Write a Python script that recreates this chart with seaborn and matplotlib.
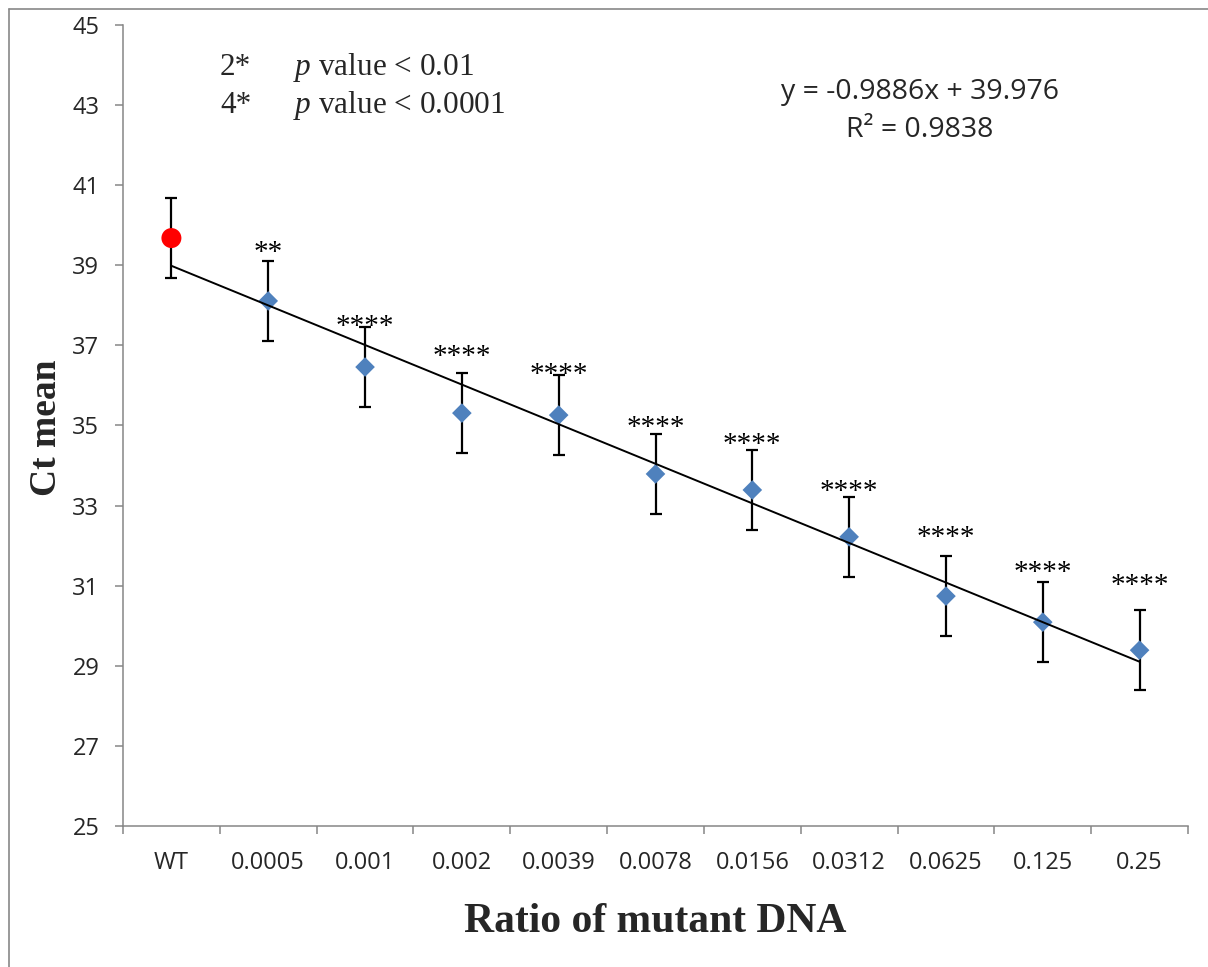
import numpy as np
import pandas as pd
import matplotlib
matplotlib.use("Agg")
import matplotlib.pyplot as plt
import seaborn as sns
from matplotlib.lines import Line2D

# ---------------- data ----------------
categories = ["WT", "0.0005", "0.001", "0.002", "0.0039", "0.0078",
              "0.0156", "0.0312", "0.0625", "0.125", "0.25"]
ct_mean = [39.68, 38.11, 36.46, 35.31, 35.26, 33.79, 33.39, 32.22, 30.74, 30.09, 29.39]
ct_err = [1.0, 1.0, 1.0, 1.0, 1.0, 1.0, 1.0, 1.0, 1.0, 1.0, 1.0]
stars = ["", "**", "****", "****", "****", "****", "****", "****", "****", "****", "****"]
star_label_center = [None, 39.47, 37.63, 36.88, 36.44, 35.11, 34.69, 33.51, 32.37, 31.49, 31.17]
trend_slope = -0.9886
trend_intercept = 39.976
r_squared = 0.9838
y_ticks = [25, 27, 29, 31, 33, 35, 37, 39, 41, 43, 45]

# ---------------- style ----------------
sns.set_style("white")
plt.rcParams["font.family"] = ["Open Sans", "DejaVu Sans"]
plt.rcParams["mathtext.fontset"] = "custom"
plt.rcParams["mathtext.rm"] = "Liberation Serif"
plt.rcParams["mathtext.it"] = "Liberation Serif:italic"

W, H = 1208, 967
fig = plt.figure(figsize=(W / 100, H / 100), dpi=100)
ax = fig.add_axes([123 / W, 1 - 826 / H, 1065 / W, 801 / H])

df = pd.DataFrame({"pos": np.arange(len(categories)), "cat": categories,
                   "mean": ct_mean, "err": ct_err})
wt = df.iloc[:1]
mut = df.iloc[1:]

# error bars (below markers)
ax.errorbar(df["pos"], df["mean"], yerr=df["err"], fmt="none", ecolor="black",
            elinewidth=1.6, capsize=4.3, capthick=1.6, zorder=2)

# markers
sns.scatterplot(data=mut, x="pos", y="mean", marker="D", s=100, color="#4F81BD",
                edgecolor="none", linewidth=0, ax=ax, zorder=3, legend=False)
sns.scatterplot(data=wt, x="pos", y="mean", marker="o", s=207, color="#FF0000",
                edgecolor="none", linewidth=0, ax=ax, zorder=3, legend=False)

# linear trend line (Excel index 1..11)
idx = np.array([1, len(categories)])
trend = pd.DataFrame({"pos": idx - 1, "y": trend_intercept + trend_slope * idx})
sns.lineplot(data=trend, x="pos", y="y", color="black", linewidth=1.4, ax=ax, zorder=4)

# significance stars
for i, (s, yc) in enumerate(zip(stars, star_label_center)):
    if s:
        ax.text(i, yc - 0.35, s, ha="center", va="baseline", fontsize=21,
                family="Liberation Serif", color="black", zorder=5)

# axes
ax.set_xlim(-0.5, len(categories) - 0.5)
ax.set_ylim(25, 45)
ax.set_yticks(y_ticks)
ax.set_yticklabels([str(t) for t in y_ticks], fontsize=17)
ax.set_xticks(np.arange(-0.5, len(categories), 1.0))
ax.set_xticklabels([])
ax.set_xticks(np.arange(len(categories)), minor=True)
ax.set_xticklabels(categories, minor=True, fontsize=17)
ax.tick_params(axis="x", which="major", direction="out", length=6, width=1.1,
               color="#868686", bottom=True)
ax.tick_params(axis="x", which="minor", length=0, pad=18)
ax.tick_params(axis="y", direction="out", length=6, width=1.1, color="#868686",
               left=True, pad=11)
for side in ["top", "right"]:
    ax.spines[side].set_visible(False)
for side in ["left", "bottom"]:
    ax.spines[side].set_color("#868686")
    ax.spines[side].set_linewidth(1.1)
ax.set_xlabel("")
ax.set_ylabel("")

# axis titles
fig.text(655.5 / W, 1 - 932 / H, "Ratio of mutant DNA", ha="center", va="baseline",
         fontsize=30, fontweight="bold", family="Liberation Serif")
fig.text(47 / W, 1 - 428 / H, "Ct mean", ha="center", va="center", rotation=90,
         fontsize=27, fontweight="bold", family="Liberation Serif")

# legend-like note
fig.text(220 / W, 1 - 75 / H, "2*", ha="left", va="baseline", fontsize=22.5,
         family="Liberation Serif")
fig.text(220 / W, 1 - 113 / H, "4*", ha="left", va="baseline", fontsize=22.5,
         family="Liberation Serif")
fig.text(293 / W, 1 - 75 / H, r"$\mathit{p}$ value < 0.01", ha="left", va="baseline",
         fontsize=22.5, family="Liberation Serif")
fig.text(293 / W, 1 - 113 / H, r"$\mathit{p}$ value < 0.0001", ha="left", va="baseline",
         fontsize=22.5, family="Liberation Serif")

# trend equation
fig.text(920 / W, 1 - 99 / H, f"y = {trend_slope}x + {trend_intercept}", ha="center",
         va="baseline", fontsize=20.5)
fig.text(920 / W, 1 - 137 / H, f"R² = {r_squared}", ha="center", va="baseline",
         fontsize=20.5)

# outer chart frame
fig.add_artist(Line2D([9 / W, 9 / W], [0, 1 - 9 / H], transform=fig.transFigure,
                      color="#888888", linewidth=1.2))
fig.add_artist(Line2D([9 / W, 1], [1 - 9 / H, 1 - 9 / H], transform=fig.transFigure,
                      color="#888888", linewidth=1.2))

fig.savefig("out.png", dpi=100)
